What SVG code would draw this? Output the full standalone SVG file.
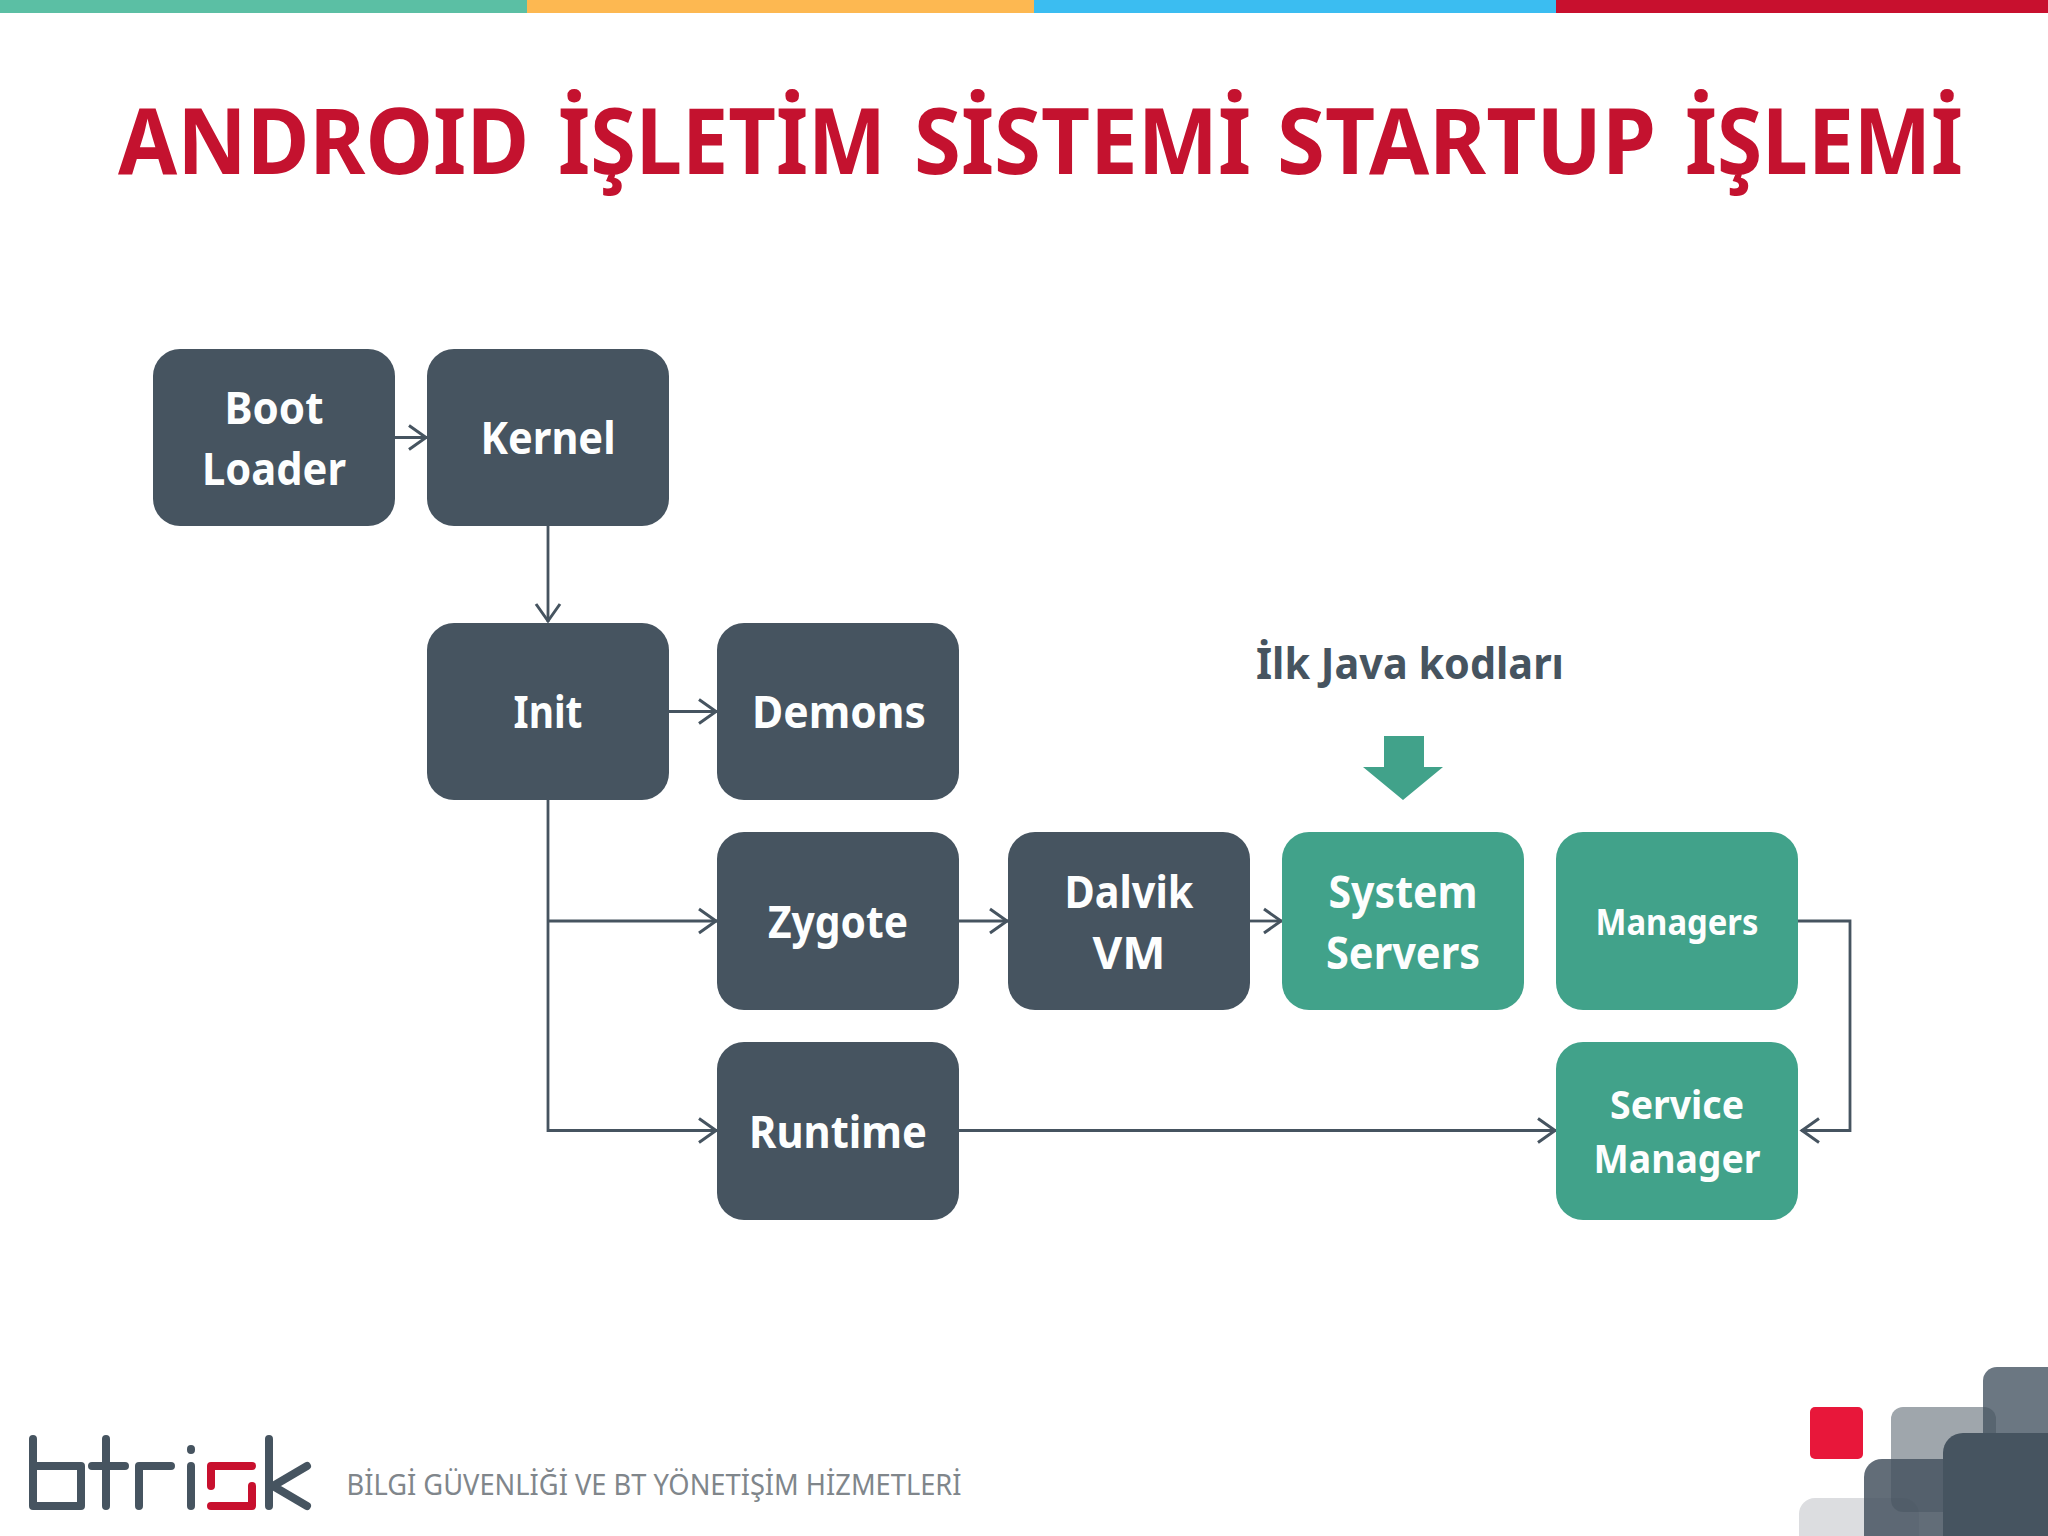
<svg xmlns="http://www.w3.org/2000/svg" width="2048" height="1536" viewBox="0 0 2048 1536">
<style>
text{font-family:"Noto Sans","Open Sans","Liberation Sans",sans-serif;font-weight:700;text-anchor:middle}
.n{fill:#465460}.g{fill:#41a28a}
.t{fill:#fdfefe;font-size:44px}
.c{fill:none;stroke:#465460;stroke-width:2.8}
.l{fill:none;stroke:#465460;stroke-width:8;stroke-linecap:round;stroke-linejoin:round}
</style>
<defs><marker id="a" markerUnits="userSpaceOnUse" markerWidth="32" markerHeight="32" refX="25" refY="14" orient="auto"><path d="M 7 2 L 24 14 L 7 26" fill="none" stroke="#465460" stroke-width="3"/></marker></defs>
<rect width="2048" height="1536" fill="#fff"/>
<g id="topbar"><rect width="527" height="13" fill="#5bbfa4"/><rect x="527" width="507" height="13" fill="#fdb851"/><rect x="1034" width="522" height="13" fill="#3bbdf1"/><rect x="1556" width="492" height="13" fill="#c8102e"/></g>
<text id="title" y="174" font-size="92" fill="#c4122f" style="text-anchor:start"><tspan x="118" textLength="411" lengthAdjust="spacingAndGlyphs">ANDROID</tspan> <tspan x="558" textLength="328" lengthAdjust="spacingAndGlyphs">İŞLETİM</tspan> <tspan x="914" textLength="337" lengthAdjust="spacingAndGlyphs">SİSTEMİ</tspan> <tspan x="1277" textLength="379" lengthAdjust="spacingAndGlyphs">STARTUP</tspan> <tspan x="1685" textLength="278" lengthAdjust="spacingAndGlyphs">İŞLEMİ</tspan></text>
<g id="connectors">
<path class="c" d="M394 437.500H427" marker-end="url(#a)"/>
<path class="c" d="M548 526V622" marker-end="url(#a)"/>
<path class="c" d="M669 711.500H717" marker-end="url(#a)"/>
<path class="c" d="M548 800V1130.500H717" marker-end="url(#a)"/>
<path class="c" d="M548 921H717" marker-end="url(#a)"/>
<path class="c" d="M959 921H1008" marker-end="url(#a)"/>
<path class="c" d="M1250 921H1282" marker-end="url(#a)"/>
<path class="c" d="M959 1130.500H1556" marker-end="url(#a)"/>
<path class="c" d="M1798 921H1850V1130.500H1801" marker-end="url(#a)"/>
</g>
<g id="boot"><rect class="n" x="153" y="349" width="242" height="177" rx="27"/><text class="t"><tspan x="274" y="424" textLength="99" lengthAdjust="spacingAndGlyphs">Boot</tspan><tspan x="274" y="485" textLength="144" lengthAdjust="spacingAndGlyphs">Loader</tspan></text></g>
<g id="kernel"><rect class="n" x="427" y="349" width="242" height="177" rx="27"/><text class="t" x="548" y="454" textLength="135" lengthAdjust="spacingAndGlyphs">Kernel</text></g>
<g id="init"><rect class="n" x="427" y="623" width="242" height="177" rx="27"/><text class="t" x="548" y="728" textLength="69" lengthAdjust="spacingAndGlyphs">Init</text></g>
<g id="demons"><rect class="n" x="717" y="623" width="242" height="177" rx="27"/><text class="t" x="839" y="728" textLength="174" lengthAdjust="spacingAndGlyphs">Demons</text></g>
<g id="zygote"><rect class="n" x="717" y="832" width="242" height="178" rx="27"/><text class="t" x="838" y="938" textLength="140" lengthAdjust="spacingAndGlyphs">Zygote</text></g>
<g id="dalvik"><rect class="n" x="1008" y="832" width="242" height="178" rx="27"/><text class="t"><tspan x="1129" y="908" textLength="129" lengthAdjust="spacingAndGlyphs">Dalvik</tspan><tspan x="1129" y="969" textLength="73" lengthAdjust="spacingAndGlyphs">VM</tspan></text></g>
<g id="system"><rect class="g" x="1282" y="832" width="242" height="178" rx="27"/><text class="t"><tspan x="1403" y="908" textLength="149" lengthAdjust="spacingAndGlyphs">System</tspan><tspan x="1403" y="969" textLength="154" lengthAdjust="spacingAndGlyphs">Servers</tspan></text></g>
<g id="managers"><rect class="g" x="1556" y="832" width="242" height="178" rx="27"/><text class="t" x="1677" y="935" style="font-size:36px" textLength="163" lengthAdjust="spacingAndGlyphs">Managers</text></g>
<g id="runtime"><rect class="n" x="717" y="1042" width="242" height="178" rx="27"/><text class="t" x="838" y="1148" textLength="178" lengthAdjust="spacingAndGlyphs">Runtime</text></g>
<g id="service"><rect class="g" x="1556" y="1042" width="242" height="178" rx="27"/><text class="t" style="font-size:40px"><tspan x="1677" y="1119" textLength="134" lengthAdjust="spacingAndGlyphs">Service</tspan><tspan x="1677" y="1173" textLength="167" lengthAdjust="spacingAndGlyphs">Manager</tspan></text></g>
<text id="java" x="1410" y="679" font-size="43" fill="#465460" textLength="308" lengthAdjust="spacingAndGlyphs">İlk Java kodları</text>
<polygon id="java-arrow" class="g" points="1384,736 1424,736 1424,767 1443,767 1403,800 1363,767 1384,767"/>
<g id="logo">
<path class="l" d="M33 1439V1506H81V1466H33"/>
<path class="l" d="M106 1439V1506M92 1466H125"/>
<path class="l" d="M139 1506V1466H171"/>
<path class="l" d="M191 1506V1466M191 1450V1449"/>
<path class="l" style="stroke:#c8102e" d="M252 1466H211V1486M211 1506H252V1486"/>
<path class="l" d="M269 1439V1506M307 1466L273 1486L307 1506"/>
<text x="654" y="1495" font-size="29" fill="#80868b" style="font-weight:400" textLength="615" lengthAdjust="spacingAndGlyphs">BİLGİ GÜVENLİĞİ VE BT YÖNETİŞİM HİZMETLERİ</text>
</g>
<g id="corner">
<rect x="1799" y="1498" width="120" height="80" rx="16" fill="#dcdde0"/>
<rect x="1983" y="1367" width="100" height="120" rx="14" fill="#6b7782"/>
<rect x="1891" y="1407" width="105" height="105" rx="12" fill="#465460" fill-opacity=".52"/>
<rect x="1864" y="1459" width="120" height="120" rx="18" fill="#465460" fill-opacity=".85"/>
<rect x="1943" y="1433" width="140" height="140" rx="20" fill="#465460"/>
<rect x="1810" y="1407" width="53" height="52" rx="5" fill="#e8173a"/>
</g>
</svg>
